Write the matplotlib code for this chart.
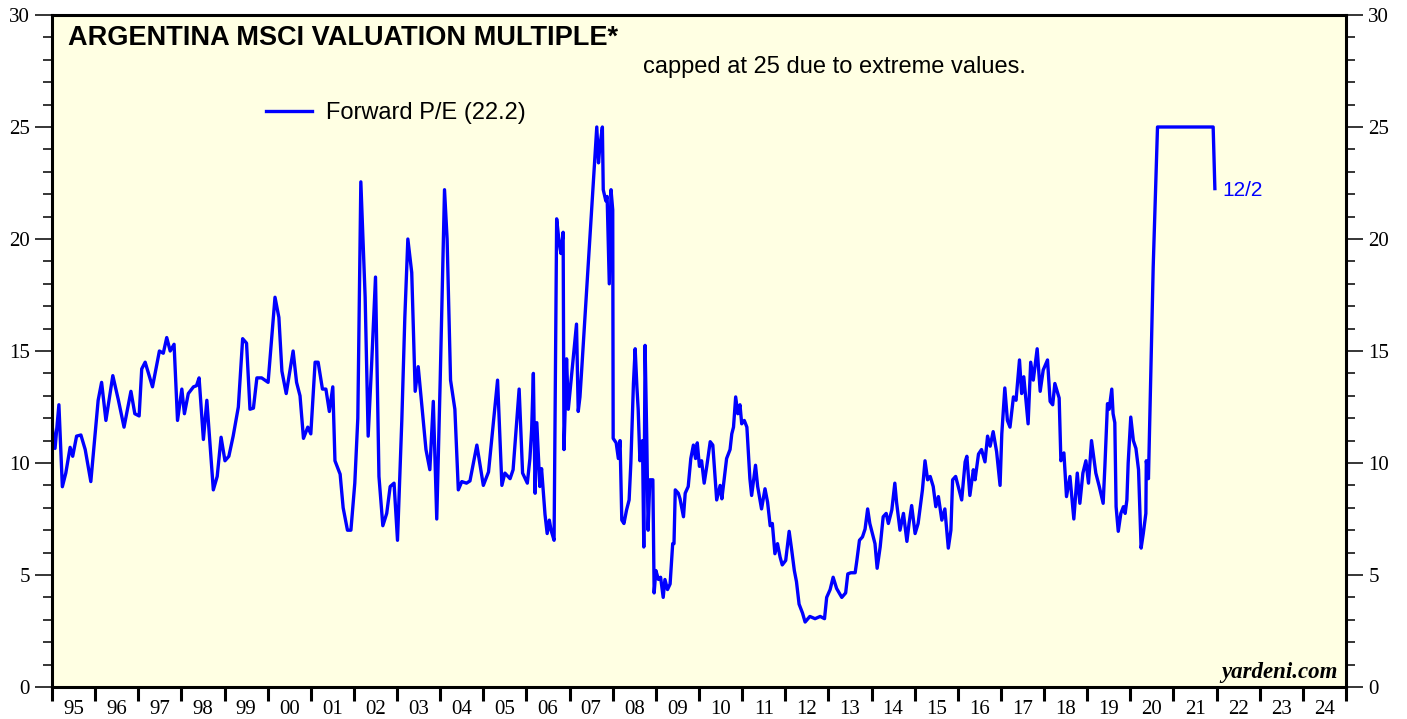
import numpy as np
import matplotlib.pyplot as plt
from matplotlib.ticker import MultipleLocator, FixedLocator, NullFormatter

# forward P/E, decimal year offsets from 1995 and values
years_off = [
    0.00, 0.07, 0.16, 0.24, 0.32, 0.42, 0.48, 0.57, 0.67, 0.77, 0.90,
    1.07, 1.15, 1.25, 1.41, 1.54, 1.67, 1.83, 1.92,
    2.02, 2.08, 2.16, 2.33, 2.49, 2.58, 2.66, 2.74, 2.83, 2.91,
    3.01, 3.07, 3.16, 3.28, 3.35, 3.41, 3.51, 3.59, 3.74, 3.83, 3.92,
    4.01, 4.10, 4.20, 4.32, 4.42, 4.51, 4.59, 4.67, 4.75, 4.86,
    5.01, 5.17, 5.26, 5.33, 5.43, 5.59, 5.67, 5.75, 5.83, 5.93,
    6.00, 6.10, 6.17, 6.27, 6.35, 6.43, 6.51, 6.56, 6.68, 6.75, 6.85, 6.93,
    7.02, 7.09, 7.16, 7.26, 7.33, 7.41, 7.50, 7.58, 7.67, 7.76, 7.84, 7.93,
    8.01, 8.11, 8.18, 8.25, 8.34, 8.42, 8.49, 8.57, 8.67, 8.76, 8.84, 8.92,
    9.00, 9.10, 9.16, 9.24, 9.34, 9.42, 9.50, 9.61, 9.69, 9.85,
    10.00, 10.12, 10.33, 10.43, 10.50, 10.62, 10.69, 10.83, 10.91,
    11.02, 11.08, 11.12, 11.16, 11.20, 11.24, 11.31, 11.35, 11.43, 11.48,
    11.53, 11.57, 11.64, 11.70, 11.76, 11.80, 11.85, 11.87, 11.93, 11.97,
    12.05, 12.16, 12.20, 12.24, 12.28, 12.63, 12.67, 12.70, 12.76, 12.78,
    12.84, 12.87, 12.92, 12.96, 13.00,
    13.01, 13.08, 13.13, 13.17, 13.21, 13.26, 13.32, 13.38, 13.42, 13.48,
    13.52, 13.56, 13.59, 13.63, 13.69, 13.72, 13.75, 13.79, 13.82, 13.86,
    13.93, 13.96, 14.00, 14.06, 14.11, 14.17, 14.21, 14.27, 14.33, 14.39,
    14.42, 14.45, 14.52, 14.56, 14.64, 14.68, 14.75, 14.81, 14.87, 14.92,
    14.96, 15.01, 15.06, 15.12, 15.18, 15.26, 15.32, 15.41, 15.49, 15.53,
    15.64, 15.72, 15.76, 15.80, 15.85, 15.90, 15.95, 15.99,
    16.05, 16.11, 16.18, 16.22, 16.31, 16.36, 16.45, 16.53, 16.59, 16.65,
    16.70, 16.76, 16.82, 16.88, 16.93,
    17.01, 17.09, 17.15, 17.21, 17.26, 17.32, 17.40, 17.46, 17.57, 17.69,
    17.81, 17.91, 17.96,
    18.04, 18.11, 18.19, 18.31, 18.40, 18.45, 18.52, 18.62, 18.66, 18.72,
    18.79, 18.85, 18.91, 18.96,
    19.02, 19.08, 19.13, 19.20, 19.27, 19.34, 19.39, 19.47, 19.54, 19.58,
    19.66, 19.74, 19.82, 19.87, 19.93,
    20.01, 20.08, 20.18, 20.24, 20.30, 20.36, 20.43, 20.49, 20.55, 20.63,
    20.70, 20.78, 20.84, 20.88, 20.95,
    21.01, 21.09, 21.17, 21.21, 21.28, 21.36, 21.40, 21.48, 21.55, 21.63,
    21.69, 21.75, 21.82, 21.90, 21.98,
    22.02, 22.09, 22.15, 22.21, 22.29, 22.35, 22.43, 22.48, 22.53, 22.63,
    22.69, 22.75, 22.84, 22.91, 22.98,
    23.08, 23.14, 23.20, 23.25, 23.35, 23.39, 23.46, 23.52, 23.60, 23.69,
    23.77, 23.83, 23.90, 23.97,
    24.03, 24.10, 24.20, 24.28, 24.37, 24.41, 24.47, 24.51, 24.57, 24.60,
    24.64, 24.67, 24.72, 24.78, 24.84, 24.88, 24.92, 24.95,
    25.01, 25.07, 25.13, 25.19, 25.25, 25.30, 25.36, 25.37, 25.42, 25.53,
    25.63, 26.92, 26.96,
]
forward_pe = [
    11.7, 10.65, 12.6, 8.94, 9.55, 10.7, 10.3, 11.2, 11.25, 10.6, 9.17,
    12.8, 13.6, 11.9, 13.9, 12.8, 11.6, 13.2, 12.2,
    12.1, 14.2, 14.5, 13.4, 15.0, 14.9, 15.6, 15.0, 15.3, 11.9,
    13.3, 12.2, 13.1, 13.4, 13.45, 13.8, 11.05, 12.8, 8.8, 9.4, 11.15,
    10.1, 10.3, 11.2, 12.5, 15.55, 15.35, 12.4, 12.45, 13.8, 13.8,
    13.6, 17.4, 16.5, 14.1, 13.1, 15.0, 13.6, 13.0, 11.1, 11.6,
    11.3, 14.5, 14.5, 13.3, 13.3, 12.3, 13.4, 10.1, 9.5, 8.0, 7.0, 7.0,
    9.1, 12.0, 22.55, 17.4, 11.2, 14.4, 18.3, 9.4, 7.2, 7.75, 8.95, 9.1,
    6.55, 11.9, 16.5, 20.0, 18.5, 13.2, 14.3, 12.65, 10.6, 9.7, 12.75, 7.5,
    13.7, 22.2, 20.0, 13.7, 12.4, 8.8, 9.17, 9.1, 9.2, 10.8,
    9.0, 9.6, 13.7, 9.0, 9.55, 9.3, 9.7, 13.3, 9.55,
    9.1, 10.2, 11.5, 14.0, 8.65, 11.8, 8.95, 9.75, 7.7, 6.85,
    7.45, 7.0, 6.55, 20.9, 19.8, 19.35, 20.3, 10.6, 14.65, 12.4,
    14.0, 16.2, 12.3, 12.95, 14.15, 25.0, 23.4, 24.1, 25.0, 22.2,
    21.7, 21.9, 18.0, 22.2, 21.3,
    11.1, 10.9, 10.2, 11.0, 7.45, 7.3, 7.9, 8.35, 10.0, 13.55,
    15.1, 13.4, 12.4, 10.1, 11.0, 6.25, 15.25, 11.0, 7.0, 9.25,
    9.25, 4.2, 5.2, 4.8, 4.9, 4.0, 4.8, 4.35, 4.6, 6.4,
    6.4, 8.8, 8.65, 8.4, 7.6, 8.65, 8.95, 10.2, 10.8, 10.2,
    10.9, 9.85, 10.1, 9.1, 9.85, 10.95, 10.8, 8.35, 9.0, 8.4,
    10.2, 10.6, 11.3, 11.6, 12.95, 12.2, 12.6, 11.75,
    11.9, 11.6, 9.3, 8.55, 9.9, 8.95, 7.95, 8.85, 8.25, 7.2,
    7.3, 5.95, 6.4, 5.8, 5.45,
    5.65, 6.95, 6.1, 5.2, 4.7, 3.7, 3.3, 2.9, 3.15, 3.05,
    3.15, 3.05, 4.0,
    4.35, 4.9, 4.4, 4.0, 4.2, 5.05, 5.1, 5.1, 5.65, 6.55,
    6.7, 7.05, 7.95, 7.3,
    6.85, 6.4, 5.3, 6.25, 7.6, 7.75, 7.3, 7.9, 9.1, 8.25,
    7.0, 7.75, 6.5, 7.3, 8.1,
    6.85, 7.3, 8.8, 10.1, 9.25, 9.4, 8.95, 8.05, 8.5, 7.45,
    7.95, 6.2, 7.0, 9.25, 9.4,
    8.95, 8.35, 10.05, 10.3, 8.55, 9.7, 9.25, 10.4, 10.6, 10.05,
    11.2, 10.75, 11.4, 10.5, 9.0,
    11.3, 13.35, 11.9, 11.6, 12.95, 12.8, 14.6, 13.1, 13.85, 11.75,
    14.5, 13.7, 15.1, 13.2, 14.15,
    14.6, 12.75, 12.6, 13.55, 12.9, 10.1, 10.45, 8.5, 9.4, 7.5,
    9.55, 8.2, 9.55, 10.1,
    9.1, 11.0, 9.55, 8.95, 8.2, 9.85, 12.65, 12.4, 13.3, 12.2,
    11.8, 8.05, 6.95, 7.75, 8.05, 7.75, 8.35, 10.0,
    12.05, 11.0, 10.65, 9.7, 6.2, 6.85, 7.75, 10.1, 9.3, 18.75,
    25.0, 25.0, 22.25,
]
year_labels = ['95', '96', '97', '98', '99', '00', '01', '02', '03', '04',
               '05', '06', '07', '08', '09', '10', '11', '12', '13', '14',
               '15', '16', '17', '18', '19', '20', '21', '22', '23', '24']

x = 1995 + np.array(years_off)
y = np.array(forward_pe)

fig = plt.figure(figsize=(14.07, 7.19), dpi=100)
ax = fig.add_axes([52/1407, 32/719, 1294/1407, 672/719])
ax.set_facecolor('#ffffe3')

ax.plot(x, y, color='#0000ff', lw=2.4, solid_joinstyle='round',
        label='Forward P/E (22.2)')

ax.set_xlim(1995, 2025)
ax.set_ylim(0, 30)

for s in ax.spines.values():
    s.set_linewidth(2.2)
    s.set_zorder(5)

# x axis: year boundaries as ticks, labels centered in each year
ax.xaxis.set_major_locator(MultipleLocator(1))
ax.xaxis.set_major_formatter(NullFormatter())
ax.xaxis.set_minor_locator(FixedLocator(np.arange(1995, 2025) + 0.5))
ax.set_xticklabels(year_labels, minor=True)
ax.tick_params(axis='x', which='major', direction='out', length=10, width=2.2)
ax.tick_params(axis='x', which='minor', length=0, pad=9,
               labelsize=15, labelfontfamily='Liberation Serif')

# y axis: both sides
ax.yaxis.set_major_locator(MultipleLocator(5))
ax.yaxis.set_minor_locator(MultipleLocator(1))
ax.tick_params(axis='y', which='both', left=True, right=True,
               labelleft=True, labelright=True, direction='out', width=1.1)
ax.tick_params(axis='y', which='major', length=12, pad=4,
               labelsize=15, labelfontfamily='Liberation Serif')
ax.tick_params(axis='y', which='minor', length=6.5)

sans = 'Liberation Sans'
ax.text(0.012, 0.966, 'ARGENTINA MSCI VALUATION MULTIPLE*', transform=ax.transAxes,
        fontsize=19.5, fontweight='bold', family=sans, va='center', ha='left')
ax.text(0.457, 0.922, 'capped at 25 due to extreme values.', transform=ax.transAxes,
        fontsize=17, family=sans, va='center', ha='left')
ax.legend(loc='upper left', bbox_to_anchor=(0.158, 0.884), frameon=False,
          prop={'family': sans, 'size': 17}, handlelength=1.95, handletextpad=0.6,
          borderaxespad=0.0)
ax.text(x[-1] + 0.17, y[-1] - 0.1, '12/2', color='#0000ff', fontsize=15,
        family=sans, va='center', ha='left')
ax.text(0.9935, 0.014, 'yardeni.com', transform=ax.transAxes, fontsize=16.5,
        family='Liberation Serif', fontweight='bold', style='italic',
        ha='right', va='baseline')

fig.savefig('out.png', dpi=100, facecolor='white')
